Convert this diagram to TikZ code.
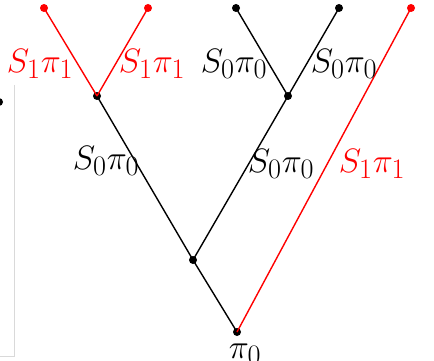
\documentclass[tikz,border=0pt]{standalone}
\begin{document}
\begin{tikzpicture}[x=1pt,y=-1pt,
  dotb/.style={circle,fill=black,inner sep=0pt,minimum size=8pt},
  dotr/.style={circle,fill=red,inner sep=0pt,minimum size=8pt},
  edgeb/.style={draw=black,line width=1.4pt},
  edger/.style={draw=red,line width=1.4pt},
  lab/.style={inner sep=0pt,font=\Huge,scale=1.36,transform shape},
  frame/.style={draw=black!15,line width=1pt}]
\useasboundingbox (0,0) rectangle (434,361);
% faint frame remnants
\coordinate (f1) at (14,85);
\coordinate (f2) at (14,356);
\coordinate (f3) at (0,356);
\draw[frame] (f1) -- (f2) -- (f3);
\node[dotb] (edge) at (-1,102) {};
% nodes
\node[dotb] (root) at (237,332) {};
\node[dotb] (mid) at (193,260) {};
\node[dotb] (L) at (97,96) {};
\node[dotb] (R) at (288,96) {};
\node[dotr] (l1) at (44,8) {};
\node[dotr] (l2) at (148,8) {};
\node[dotb] (l3) at (236,8) {};
\node[dotb] (l4) at (339,8) {};
\node[dotr] (l5) at (411,8) {};
% edges
\draw[edgeb] (root.center) -- (mid.center);
\draw[edgeb] (mid.center) -- (L.center);
\draw[edgeb] (mid.center) -- (R.center);
\draw[edgeb] (R.center) -- (l3.center);
\draw[edgeb] (R.center) -- (l4.center);
\draw[edger] (L.center) -- (l1.center);
\draw[edger] (L.center) -- (l2.center);
\draw[edger] (root.center) -- (l5.center);
% labels
\node[lab,text=red] (t1) at (40,64) {$S_1\pi_1$};
\node[lab,text=red] (t2) at (152,64) {$S_1\pi_1$};
\node[lab] (t3) at (234,64) {$S_0\pi_0$};
\node[lab] (t4) at (344,64) {$S_0\pi_0$};
\node[lab] (t5) at (106,161) {$S_0\pi_0$};
\node[lab] (t6) at (281,164) {$S_0\pi_0$};
\node[lab,text=red] (t7) at (372,164) {$S_1\pi_1$};
\node[lab] (t8) at (245,354) {$\pi_0$};
\end{tikzpicture}
\end{document}
